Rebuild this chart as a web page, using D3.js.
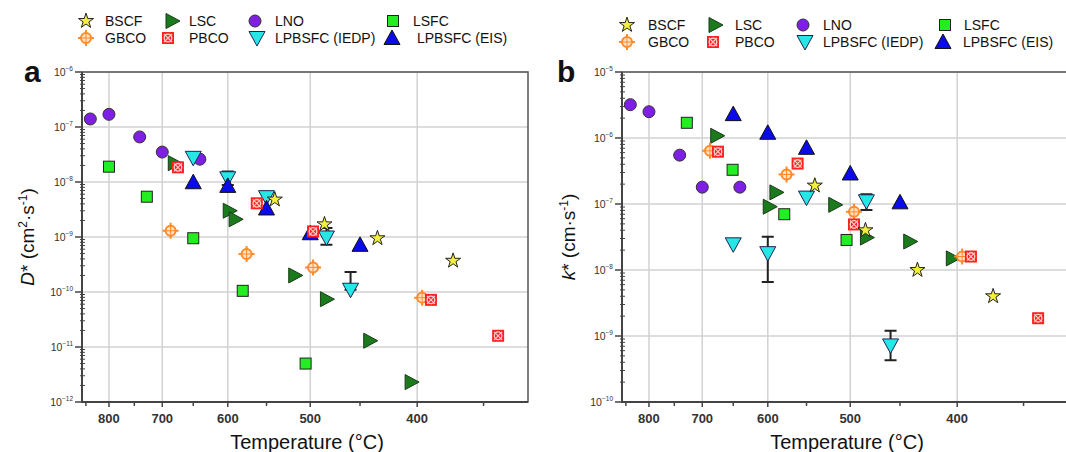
<!DOCTYPE html>
<html>
<head>
<meta charset="utf-8">
<script src="https://cdn.jsdelivr.net/npm/d3@7"></script>
<style>
  body { margin: 0; background: #fff; }
  svg { font-family: "Liberation Sans", Arial, sans-serif; }
</style>
</head>
<body>
<svg id="chart" width="1066" height="452"></svg>
<script>
// datos: [T (°C), valor]
const lnoA  = [[840, 1.4e-7], [800, 1.7e-7], [740, 6.6e-8], [700, 3.5e-8], [640, 2.6e-8]];
const lsfcA = [[800, 1.9e-8], [727, 5.4e-9], [650, 9.5e-10], [580, 1.05e-10], [505, 5e-12]];
const lscA  = [[680, 2.2e-8], [598, 3.0e-9], [590, 2.1e-9], [517, 2.0e-10], [483, 7.4e-11], [441, 1.3e-11], [405, 2.3e-12]];
const gbcoA = [[686, 1.3e-9], [575, 4.9e-10], [497, 2.8e-10], [396, 7.9e-11]];
const pbcoA = [[674, 1.85e-8], [562, 4.1e-9], [497, 1.26e-9], [389, 7.2e-11], [340, 1.6e-11]];
const bscfA = [[540, 4.8e-9], [485, 1.7e-9], [434, 9.5e-10], [372, 3.7e-10]];
const iedpA = [[650, 2.75e-8], [600, 1.17e-8], [550, 5.3e-9], [483, 9.8e-10], [459, 1.1e-10]];
const eisA  = [[650, 9.9e-9], [600, 8.5e-9], [550, 3.3e-9], [500, 1.17e-9], [450, 7.2e-10]];
const errA  = [[600, 8.8e-9, 1.55e-8], [483, 7.2e-10, 1.45e-9], [459, 1.1e-10, 2.3e-10]];

const lnoB  = [[840, 3.2e-6], [800, 2.5e-6], [740, 5.5e-7], [700, 1.8e-7], [640, 1.8e-7]];
const lsfcB = [[727, 1.7e-6], [651, 3.3e-7], [578, 7.0e-8], [504, 2.85e-8]];
const lscB  = [[676, 1.08e-6], [589, 1.5e-7], [598, 9.1e-8], [517, 9.7e-8], [483, 3.1e-8], [441, 2.7e-8], [404, 1.5e-8]];
const gbcoB = [[687, 6.4e-7], [575, 2.8e-7], [496, 7.6e-8], [396, 1.6e-8]];
const pbcoB = [[674, 6.2e-7], [561, 4.1e-7], [496, 4.9e-8], [389, 1.6e-8], [340, 1.86e-9]];
const bscfB = [[540, 1.9e-7], [484, 4.0e-8], [434, 1.0e-8], [372, 4.0e-9]];
const iedpB = [[650, 2.45e-8], [600, 1.8e-8], [550, 1.25e-7], [483, 1.1e-7], [459, 7.2e-10]];
const eisB  = [[650, 2.3e-6], [600, 1.2e-6], [550, 7.1e-7], [500, 2.9e-7], [450, 1.06e-7]];
const errB  = [[600, 6.6e-9, 3.2e-8], [483, 8.1e-8, 1.4e-7], [459, 4.3e-10, 1.2e-9]];

const tempTicks = [800, 700, 600, 500, 400];
const tempMinor = [850, 750, 650, 550, 450, 350];
const expA = [-6, -7, -8, -9, -10, -11, -12];
const expB = [-5, -6, -7, -8, -9, -10];

const legendNames = ['BSCF', 'LSC', 'LNO', 'LSFC', 'GBCO', 'PBCO', 'LPBSFC (IEDP)', 'LPBSFC (EIS)'];
const legendKeys  = ['bscf', 'lsc', 'lno', 'lsfc', 'gbco', 'pbco', 'iedp', 'eis'];

const svg = d3.select('#chart');

// escala en 1000/T
const inv = t => 1000 / (t + 273);

// dibujar un símbolo
function marker(g, key, x, y) {
    const s = g.append('g').attr('transform', `translate(${x},${y})`);
    if (key === 'bscf') {
        s.append('path').attr('d', d3.symbol().type(d3.symbolStar).size(70)())
            .attr('fill', '#f2f03a').attr('stroke', '#222').attr('stroke-width', 1);
    } else if (key === 'lsc') {
        s.append('path').attr('d', 'M-6,-7.5 L8,0 L-6,7.5 Z')
            .attr('fill', '#1b7a1b').attr('stroke', '#1a3a1a').attr('stroke-width', 1);
    } else if (key === 'lno') {
        s.append('circle').attr('r', 6)
            .attr('fill', '#7f1fe6').attr('stroke', '#333').attr('stroke-width', 1);
    } else if (key === 'lsfc') {
        s.append('rect').attr('x', -5.5).attr('y', -5.5).attr('width', 11).attr('height', 11)
            .attr('fill', '#22ee22').attr('stroke', '#222').attr('stroke-width', 1);
    } else if (key === 'gbco') {
        s.append('path').attr('d', 'M0,-8 L0,8 M-8,0 L8,0')
            .attr('stroke', '#ff8a2a').attr('stroke-width', 2);
        s.append('circle').attr('r', 5)
            .attr('fill', '#ffe2c8').attr('stroke', '#ff8a2a').attr('stroke-width', 2);
        s.append('path').attr('d', 'M0,-5 L0,5 M-5,0 L5,0')
            .attr('stroke', '#ff8a2a').attr('stroke-width', 1);
    } else if (key === 'pbco') {
        s.append('rect').attr('x', -6).attr('y', -6).attr('width', 12).attr('height', 12)
            .attr('fill', '#ff2020');
        s.append('circle').attr('r', 3.8).attr('fill', 'none')
            .attr('stroke', '#ffd0d0').attr('stroke-width', 1.3);
        s.append('path').attr('d', 'M-4,-4 L4,4 M-4,4 L4,-4')
            .attr('stroke', '#ffd0d0').attr('stroke-width', 1.1);
    } else if (key === 'iedp') {
        s.append('path').attr('d', 'M-8,-6.5 L8,-6.5 L0,8 Z')
            .attr('fill', '#27e6e6').attr('stroke', '#225').attr('stroke-width', 1);
    } else if (key === 'eis') {
        s.append('path').attr('d', 'M-8,6.5 L8,6.5 L0,-8 Z')
            .attr('fill', '#0a0aea').attr('stroke', '#111').attr('stroke-width', 1);
    }
}

function drawPanel(opt) {
    const { left, top, width, height, yDomain, exps, series, errs, letter, letterX, labelX, yLabel } = opt;
    const g = svg.append('g');

    const x = d3.scaleLinear().domain([0.8835, 1.685]).range([left, left + width]);
    const y = d3.scaleLog().domain(yDomain).range([top + height, top]);

    // rejilla
    g.selectAll('.gx').data(tempTicks).enter().append('line')
        .attr('x1', d => x(inv(d))).attr('x2', d => x(inv(d)))
        .attr('y1', top).attr('y2', top + height)
        .attr('stroke', '#d2d2d2').attr('stroke-width', 1.5);
    g.selectAll('.gy').data(exps).enter().append('line')
        .attr('x1', left).attr('x2', left + width)
        .attr('y1', d => y(Math.pow(10, d))).attr('y2', d => y(Math.pow(10, d)))
        .attr('stroke', '#d2d2d2').attr('stroke-width', 1.5);

    // marco
    g.append('rect').attr('x', left).attr('y', top).attr('width', width).attr('height', height)
        .attr('fill', 'none').attr('stroke', '#555').attr('stroke-width', 1.5);
    g.append('path').attr('d', `M${left},${top} V${top + height} H${left + width}`)
        .attr('fill', 'none').attr('stroke', '#444').attr('stroke-width', 2);

    // eje x
    g.selectAll('.tx').data(tempTicks).enter().append('line')
        .attr('x1', d => x(inv(d))).attr('x2', d => x(inv(d)))
        .attr('y1', top + height).attr('y2', top + height + 5)
        .attr('stroke', '#444').attr('stroke-width', 1.5);
    g.selectAll('.mx').data(tempMinor).enter().append('line')
        .attr('x1', d => x(inv(d))).attr('x2', d => x(inv(d)))
        .attr('y1', top + height).attr('y2', top + height + 4)
        .attr('stroke', '#444').attr('stroke-width', 1.5);
    g.selectAll('.lx').data(tempTicks).enter().append('text')
        .attr('x', d => x(inv(d))).attr('y', top + height + 21)
        .attr('text-anchor', 'middle').attr('font-size', 13).attr('font-weight', 'bold')
        .attr('fill', '#333').text(d => d);

    // eje y
    const minors = [];
    exps.slice(1).forEach(e => {
        for (let k = 2; k <= 9; k++) minors.push(k * Math.pow(10, e));
    });
    g.selectAll('.my').data(minors).enter().append('line')
        .attr('x1', left - 2).attr('x2', left + 3)
        .attr('y1', d => y(d)).attr('y2', d => y(d))
        .attr('stroke', '#444').attr('stroke-width', 1);
    g.selectAll('.ty').data(exps).enter().append('line')
        .attr('x1', left - 7).attr('x2', left)
        .attr('y1', d => y(Math.pow(10, d))).attr('y2', d => y(Math.pow(10, d)))
        .attr('stroke', '#444').attr('stroke-width', 1.5);
    const ly = g.selectAll('.ly').data(exps).enter().append('text')
        .attr('x', left - 9).attr('y', d => y(Math.pow(10, d)) + 4)
        .attr('text-anchor', 'end').attr('font-size', 10.5).attr('fill', '#333');
    ly.append('tspan').text('10');
    ly.append('tspan').attr('dy', -5).attr('font-size', 6.5).text(d => '\u2212' + (-d));

    // barras de error
    errs.forEach(e => {
        const cx = x(inv(e[0]));
        g.append('path')
            .attr('d', `M${cx},${y(e[1])} V${y(e[2])} M${cx - 6},${y(e[1])} H${cx + 6} M${cx - 6},${y(e[2])} H${cx + 6}`)
            .attr('stroke', '#222').attr('stroke-width', 2).attr('fill', 'none');
    });

    // puntos
    series.forEach(sr => {
        sr.data.forEach(d => marker(g, sr.key, x(inv(d[0])), y(d[1])));
    });

    // textos
    g.append('text').attr('x', letterX).attr('y', top + 10)
        .attr('font-size', 30).attr('font-weight', 'bold').attr('fill', '#111').text(letter);

    const yl = g.append('text')
        .attr('transform', `translate(${labelX},${top + height / 2}) rotate(-90)`)
        .attr('text-anchor', 'middle').attr('font-size', 19).attr('fill', '#111');
    yLabel(yl);

    g.append('text').attr('x', left + width / 2 + 2).attr('y', top + height + 47)
        .attr('text-anchor', 'middle').attr('font-size', 20).attr('fill', '#111')
        .text('Temperature (\u00B0C)');
}

function drawLegend(symX, textX, rowY) {
    const g = svg.append('g');
    legendKeys.forEach((k, i) => {
        const col = i % 4, row = Math.floor(i / 4);
        marker(g, k, symX[row][col], rowY[row]);
        g.append('text').attr('x', textX[row][col]).attr('y', rowY[row] + 5)
            .attr('font-size', 14).attr('fill', '#111').text(legendNames[i]);
    });
}

drawPanel({
    left: 82, top: 72, width: 446, height: 330,
    yDomain: [1e-12, 1e-6], exps: expA, errs: errA, letter: 'a', letterX: 24, labelX: 34,
    series: [
        { key: 'lno', data: lnoA }, { key: 'lsfc', data: lsfcA }, { key: 'lsc', data: lscA },
        { key: 'gbco', data: gbcoA }, { key: 'iedp', data: iedpA }, { key: 'eis', data: eisA },
        { key: 'pbco', data: pbcoA }, { key: 'bscf', data: bscfA }
    ],
    yLabel: t => {
        t.append('tspan').attr('font-style', 'italic').text('D');
        t.append('tspan').text('* (cm');
        t.append('tspan').attr('dy', -7).attr('font-size', 12).text('2');
        t.append('tspan').attr('dy', 7).text('\u00B7s');
        t.append('tspan').attr('dy', -7).attr('font-size', 12).text('-1');
        t.append('tspan').attr('dy', 7).text(')');
    }
});

drawPanel({
    left: 622, top: 72, width: 446, height: 330,
    yDomain: [1e-10, 1e-5], exps: expB, errs: errB, letter: 'b', letterX: 557, labelX: 575,
    series: [
        { key: 'lno', data: lnoB }, { key: 'lsfc', data: lsfcB }, { key: 'lsc', data: lscB },
        { key: 'gbco', data: gbcoB }, { key: 'iedp', data: iedpB }, { key: 'eis', data: eisB },
        { key: 'pbco', data: pbcoB }, { key: 'bscf', data: bscfB }
    ],
    yLabel: t => {
        t.append('tspan').attr('font-style', 'italic').text('k');
        t.append('tspan').text('* (cm\u00B7s');
        t.append('tspan').attr('dy', -7).attr('font-size', 12).text('-1');
        t.append('tspan').attr('dy', 7).text(')');
    }
});

drawLegend([[86, 172, 255, 393], [86, 168, 257, 392]], [[105, 189, 275, 413], [105, 189, 275, 417]], [21, 38]);
drawLegend([[627, 715, 803, 945], [627, 713, 805, 943]], [[648, 735, 823, 964], [648, 735, 823, 963]], [25, 42]);
</script>
</body>
</html>
